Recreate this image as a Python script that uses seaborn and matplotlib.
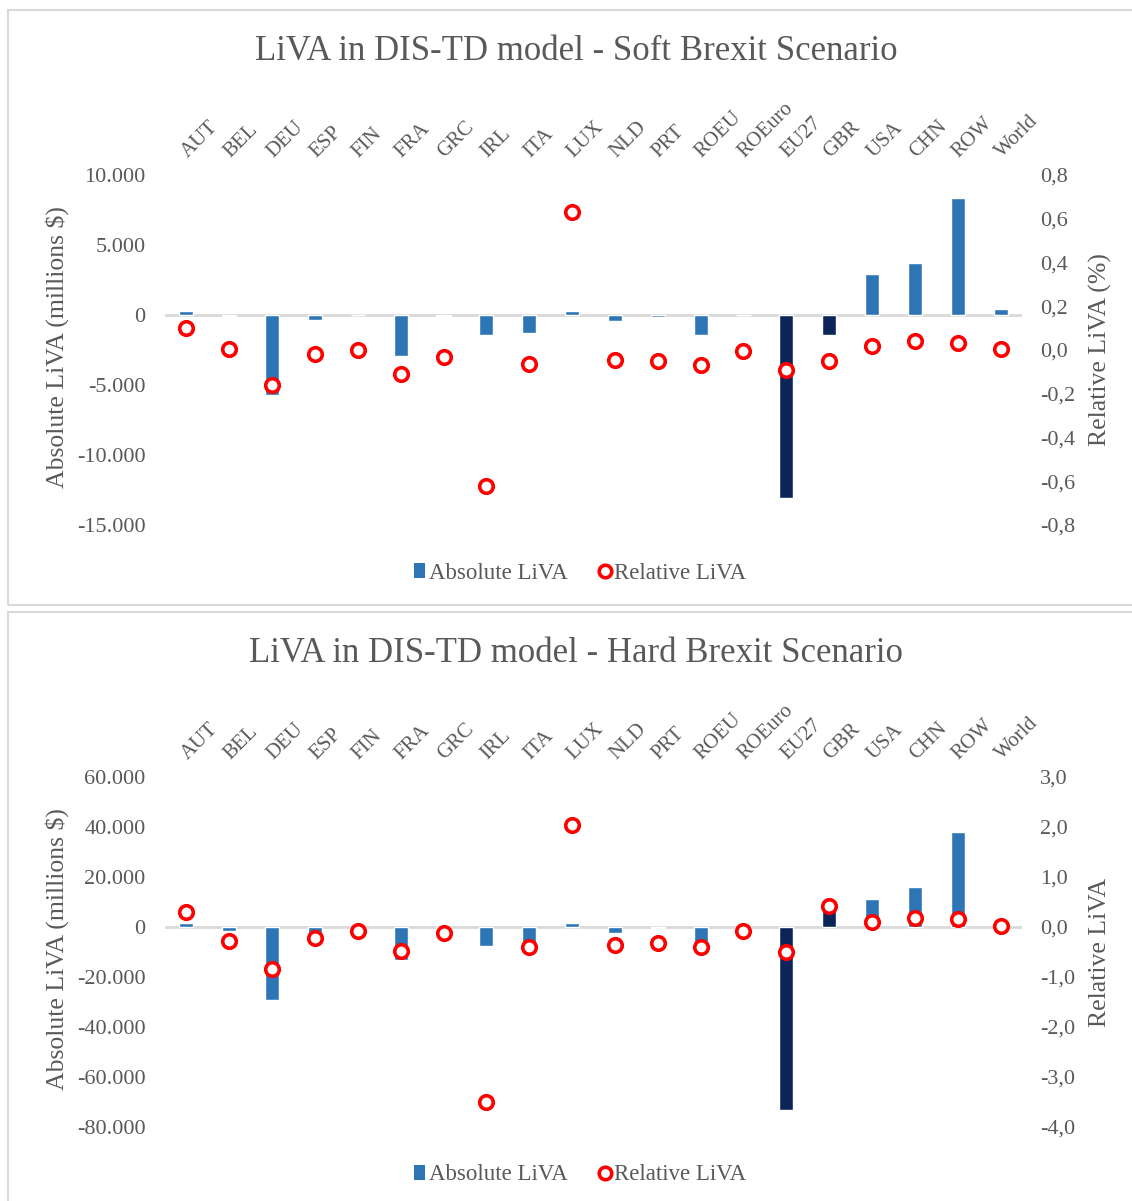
import numpy as np
import pandas as pd
import matplotlib
matplotlib.use("Agg")
import matplotlib.pyplot as plt
import matplotlib.transforms as mtransforms
import seaborn as sns
from matplotlib.patches import Rectangle, Patch
from matplotlib.lines import Line2D
from matplotlib.ticker import FuncFormatter

# Data
regions = ["AUT", "BEL", "DEU", "ESP", "FIN", "FRA", "GRC", "IRL", "ITA", "LUX",
           "NLD", "PRT", "ROEU", "ROEuro", "EU27", "GBR", "USA", "CHN", "ROW", "World"]

soft_abs = [300, -50, -5700, -350, -30, -2950, -40, -1450, -1250, 300,
            -400, -150, -1450, -30, -13100, -1450, 2950, 3750, 8350, 450]
soft_rel = [0.10, 0.005, -0.16, -0.02, 0.0, -0.11, -0.03, -0.62, -0.065, 0.63,
            -0.045, -0.05, -0.07, -0.005, -0.09, -0.05, 0.02, 0.04, 0.03, 0.005]

hard_abs = [1500, -1500, -29000, -4000, -300, -13000, -400, -7700, -6500, 1500,
            -2500, -500, -7000, -200, -73000, 10500, 11300, 16000, 38000, 400]
hard_rel = [0.30, -0.28, -0.83, -0.22, -0.08, -0.48, -0.12, -3.50, -0.40, 2.04,
            -0.36, -0.32, -0.40, -0.08, -0.50, 0.42, 0.10, 0.18, 0.16, 0.03]

dark_regions = ["EU27", "GBR"]

BLUE = "#2E75B6"
NAVY = "#0B2559"
RED = "#FF0000"
GREY = "#595959"

sns.set_style("white")
plt.rcParams["font.family"] = ["Liberation Serif", "DejaVu Serif"]

W, H = 1132, 1201
fig = plt.figure(figsize=(W / 100, H / 100), dpi=100)

thousands = FuncFormatter(lambda v, p: f"{int(round(v)):,}".replace(",", "."))
comma1 = FuncFormatter(lambda v, p: f"{v:.1f}".replace(".", ","))


def px(x0, y0, x1, y1):
    return [x0 / W, 1 - y1 / H, (x1 - x0) / W, (y1 - y0) / H]


def draw_panel(top, title, abs_vals, rel_vals, lticks, rticks, rlabel):
    # panel border
    fig.patches.append(Rectangle((8 / W, 1 - (top + 595) / H), 1.1, 595 / H,
                                 transform=fig.transFigure, fill=False,
                                 edgecolor="#D9D9D9", lw=1.5))
    ax = fig.add_axes(px(165, top + 165, 1022, top + 515))
    df = pd.DataFrame({"region": regions, "value": abs_vals})
    pal = {r: (NAVY if r in dark_regions else BLUE) for r in regions}
    sns.barplot(data=df, x="region", y="value", hue="region", palette=pal,
                width=0.33, saturation=1, legend=False, ax=ax, zorder=2)
    ax.axhline(0, color="#D9D9D9", lw=2, zorder=1)
    ax.set_ylim(lticks[0], lticks[-1])
    ax.set_yticks(lticks)
    ax.yaxis.set_major_formatter(thousands)
    ax.set_xlim(-0.5, len(regions) - 0.5)
    ax.set_xlabel("")
    ax.set_ylabel("")
    ax.tick_params(axis="x", bottom=False, labelbottom=False, top=False,
                   labeltop=False, length=0)
    ax.tick_params(axis="y", length=0, pad=14, labelsize=16, labelcolor=GREY)
    for s in ax.spines.values():
        s.set_visible(False)

    # slanted category names above the plot
    shift = mtransforms.ScaledTranslation(0.01, 0.17, fig.dpi_scale_trans)
    for i, name in enumerate(regions):
        ax.text(i, 1.0, name, transform=ax.get_xaxis_transform() + shift,
                rotation=45, rotation_mode="anchor", ha="left", va="baseline",
                fontsize=15, color=GREY)

    ax2 = ax.twinx()
    sns.scatterplot(x=np.arange(len(regions)), y=rel_vals, ax=ax2, marker="o",
                    s=95, facecolor="white", edgecolor=RED, linewidth=2.6,
                    zorder=3)
    ax2.set_ylim(rticks[0], rticks[-1])
    ax2.set_yticks(rticks)
    ax2.yaxis.set_major_formatter(comma1)
    ax2.tick_params(axis="y", length=0, pad=13, labelsize=16, labelcolor=GREY)
    for s in ax2.spines.values():
        s.set_visible(False)

    fig.text(576 / W, 1 - (top + 42) / H, title, ha="center", va="center",
             fontsize=25, color=GREY)
    fig.text(57 / W, 1 - (top + 337) / H, "Absolute LiVA (millions $)",
             rotation=90, ha="center", va="center", fontsize=18.5, color=GREY)
    fig.text(1100 / W, 1 - (top + 340) / H, rlabel,
             rotation=90, ha="center", va="center", fontsize=18.5, color=GREY)

    handles = [Patch(facecolor=BLUE, edgecolor="none"),
               Line2D([], [], ls="none", marker="o", markersize=9,
                      markerfacecolor="white", markeredgecolor=RED,
                      markeredgewidth=2.6)]
    fig.legend(handles, ["Absolute LiVA", "Relative LiVA"], loc="center",
               bbox_to_anchor=(580 / W, 1 - (top + 563) / H), ncol=2,
               frameon=False, fontsize=16.5, handlelength=0.5, handleheight=0.6,
               handletextpad=0.15, columnspacing=1.4, labelcolor=GREY)


draw_panel(10, "LiVA in DIS-TD model - Soft Brexit Scenario", soft_abs, soft_rel,
           [-15000, -10000, -5000, 0, 5000, 10000],
           [-0.8, -0.6, -0.4, -0.2, 0.0, 0.2, 0.4, 0.6, 0.8],
           "Relative LiVA (%)")
draw_panel(612, "LiVA in DIS-TD model - Hard Brexit Scenario", hard_abs, hard_rel,
           [-80000, -60000, -40000, -20000, 0, 20000, 40000, 60000],
           [-4.0, -3.0, -2.0, -1.0, 0.0, 1.0, 2.0, 3.0],
           "Relative LiVA")

fig.savefig("out.png", dpi=100, facecolor="white")
